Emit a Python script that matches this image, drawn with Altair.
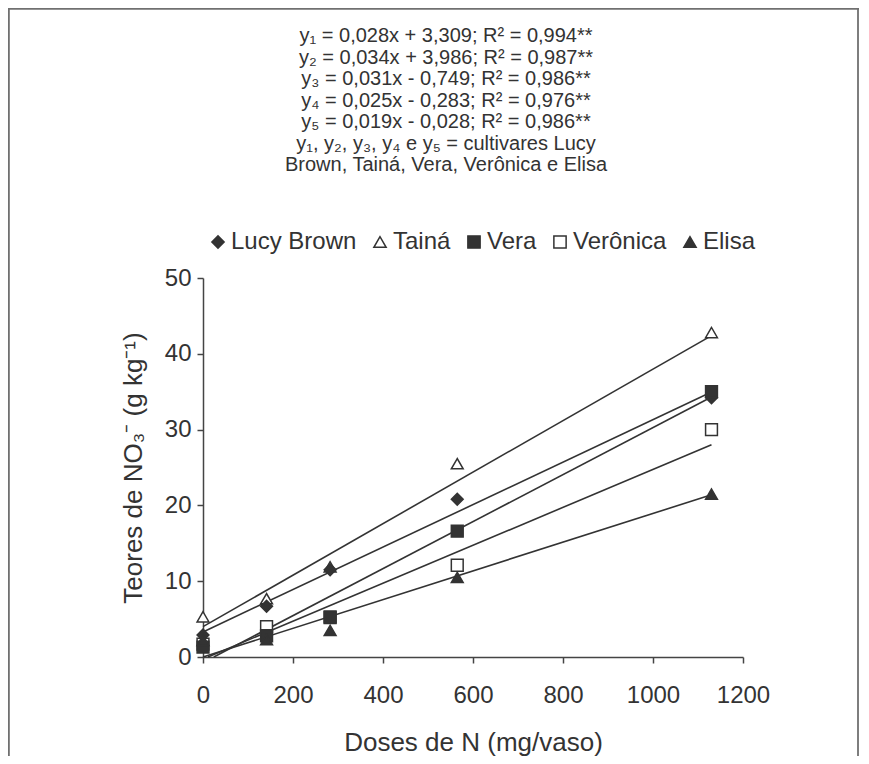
import altair as alt
import pandas as pd

# ---------------- data ----------------
doses = [0, 141.25, 282.5, 565, 1130]
cultivars = ["Lucy Brown", "Tainá", "Vera", "Verônica", "Elisa"]
lucy_brown = [2.9, 6.7, 11.5, 20.8, 34.2]
taina = [5.3, 7.7, 11.9, 25.5, 42.8]
vera = [1.3, 2.8, 5.3, 16.6, 35.0]
veronica = [1.7, 4.0, 5.2, 12.1, 30.0]
elisa = [2.2, 2.3, 3.5, 10.5, 21.5]

# fitted lines: start / end points per cultivar (order = cultivars)
line_x_start = [0, 0, 24, 11, 0]
line_y_start = [3.3, 4.0, 0.0, 0.0, 0.0]
line_x_end = [1130, 1130, 1130, 1130, 1130]
line_y_end = [34.95, 42.4, 34.3, 28.0, 21.4]

marker_shapes = ["diamond", "triangle-up", "square", "square", "triangle-up"]
marker_fills = ["#333333", "#ffffff", "#333333", "#ffffff", "#333333"]
marker_strokes = ["#333333"] * 5
draw_order = ["Tainá", "Verônica", "Lucy Brown", "Vera", "Elisa"]

x_ticks = [0, 200, 400, 600, 800, 1000, 1200]
y_ticks = [0, 10, 20, 30, 40, 50]

equations = [
    "y₁ = 0,028x + 3,309; R² = 0,994**",
    "y₂ = 0,034x + 3,986; R² = 0,987**",
    "y₃ = 0,031x - 0,749; R² = 0,986**",
    "y₄ = 0,025x - 0,283; R² = 0,976**",
    "y₅ = 0,019x - 0,028; R² = 0,986**",
    "y₁, y₂, y₃, y₄ e y₅ = cultivares Lucy",
    "Brown, Tainá, Vera, Verônica e Elisa",
]

# ---------------- tables ----------------
series = {
    "Lucy Brown": lucy_brown,
    "Tainá": taina,
    "Vera": vera,
    "Verônica": veronica,
    "Elisa": elisa,
}
rows = []
for name in draw_order:
    for d, v in zip(doses, series[name]):
        rows.append({"dose": d, "teor": v, "cultivar": name})
pts = pd.DataFrame(rows)

lrows = []
for i, name in enumerate(cultivars):
    lrows.append({"dose": line_x_start[i], "teor": line_y_start[i], "cultivar": name})
    lrows.append({"dose": line_x_end[i], "teor": line_y_end[i], "cultivar": name})
lines_df = pd.DataFrame(lrows)

FONT = "Liberation Sans"
INK = "#333333"

xscale = alt.Scale(domain=[0, 1200], nice=False, zero=False)
yscale = alt.Scale(domain=[0, 50], nice=False)

xaxis = alt.Axis(
    values=x_ticks,
    format="d",
    title="Doses de N (mg/vaso)",
    labelPadding=20,
    titlePadding=22,
    labelFlush=False,
)
yaxis = alt.Axis(
    values=y_ticks,
    format="d",
    title="Teores de NO₃⁻ (g kg⁻¹)",
    labelPadding=6,
    titlePadding=18,
)

legend = alt.Legend(
    title=None,
    orient="none",
    legendX=3,
    legendY=-48,
    direction="horizontal",
    labelFontSize=24,
    labelFont=FONT,
    labelColor=INK,
    symbolSize=150,
    symbolStrokeWidth=1.5,
    labelOffset=1,
    columnPadding=11,
    padding=0,
)

points = alt.Chart(pts).mark_point(
    filled=True, strokeWidth=1.5, size=140, opacity=1
).encode(
    x=alt.X("dose:Q", scale=xscale, axis=xaxis),
    y=alt.Y("teor:Q", scale=yscale, axis=yaxis),
    shape=alt.Shape("cultivar:N", scale=alt.Scale(domain=cultivars, range=marker_shapes), legend=legend),
    fill=alt.Fill("cultivar:N", scale=alt.Scale(domain=cultivars, range=marker_fills), legend=legend),
    stroke=alt.Stroke("cultivar:N", scale=alt.Scale(domain=cultivars, range=marker_strokes), legend=legend),
)

lines = alt.Chart(lines_df).mark_line(color=INK, strokeWidth=1.6).encode(
    x=alt.X("dose:Q", scale=xscale, axis=xaxis),
    y=alt.Y("teor:Q", scale=yscale, axis=yaxis),
    detail="cultivar:N",
)

one = alt.Data(values=[{}])
eq_text = alt.Chart(one).mark_text(
    text=equations,
    fontSize=20,
    lineHeight=21.5,
    align="center",
    baseline="top",
    font=FONT,
    color=INK,
).encode(x=alt.value(243), y=alt.value(-252))

FRAME = "#707070"
frame_left = alt.Chart(one).mark_rule(color=FRAME, strokeWidth=1.8).encode(
    x=alt.value(-194.1), y=alt.value(-270), y2=alt.value(478)
)
frame_top = alt.Chart(one).mark_rule(color=FRAME, strokeWidth=1.8).encode(
    y=alt.value(-269.1), x=alt.value(-195), x2=alt.value(656)
)
frame_right = alt.Chart(one).mark_rule(color=FRAME, strokeWidth=1.8).encode(
    x=alt.value(655), y=alt.value(-270), y2=alt.value(478)
)

chart = alt.layer(frame_left, frame_top, frame_right, eq_text, lines, points).properties(
    width=540,
    height=379,
    padding={"left": 195, "top": 270, "right": 118, "bottom": 99},
    autosize=alt.AutoSizeParams(type="none"),
).configure_view(stroke=None).configure_axis(
    grid=False,
    labelFont=FONT,
    titleFont=FONT,
    labelFontSize=24,
    titleFontSize=26,
    titleFontWeight="normal",
    labelColor=INK,
    titleColor=INK,
    domainColor="#444444",
    tickColor="#444444",
    domainWidth=1.5,
    tickWidth=1.5,
    tickSize=6,
)

chart.save("out.html", embed_options={"renderer": "svg", "actions": False})
